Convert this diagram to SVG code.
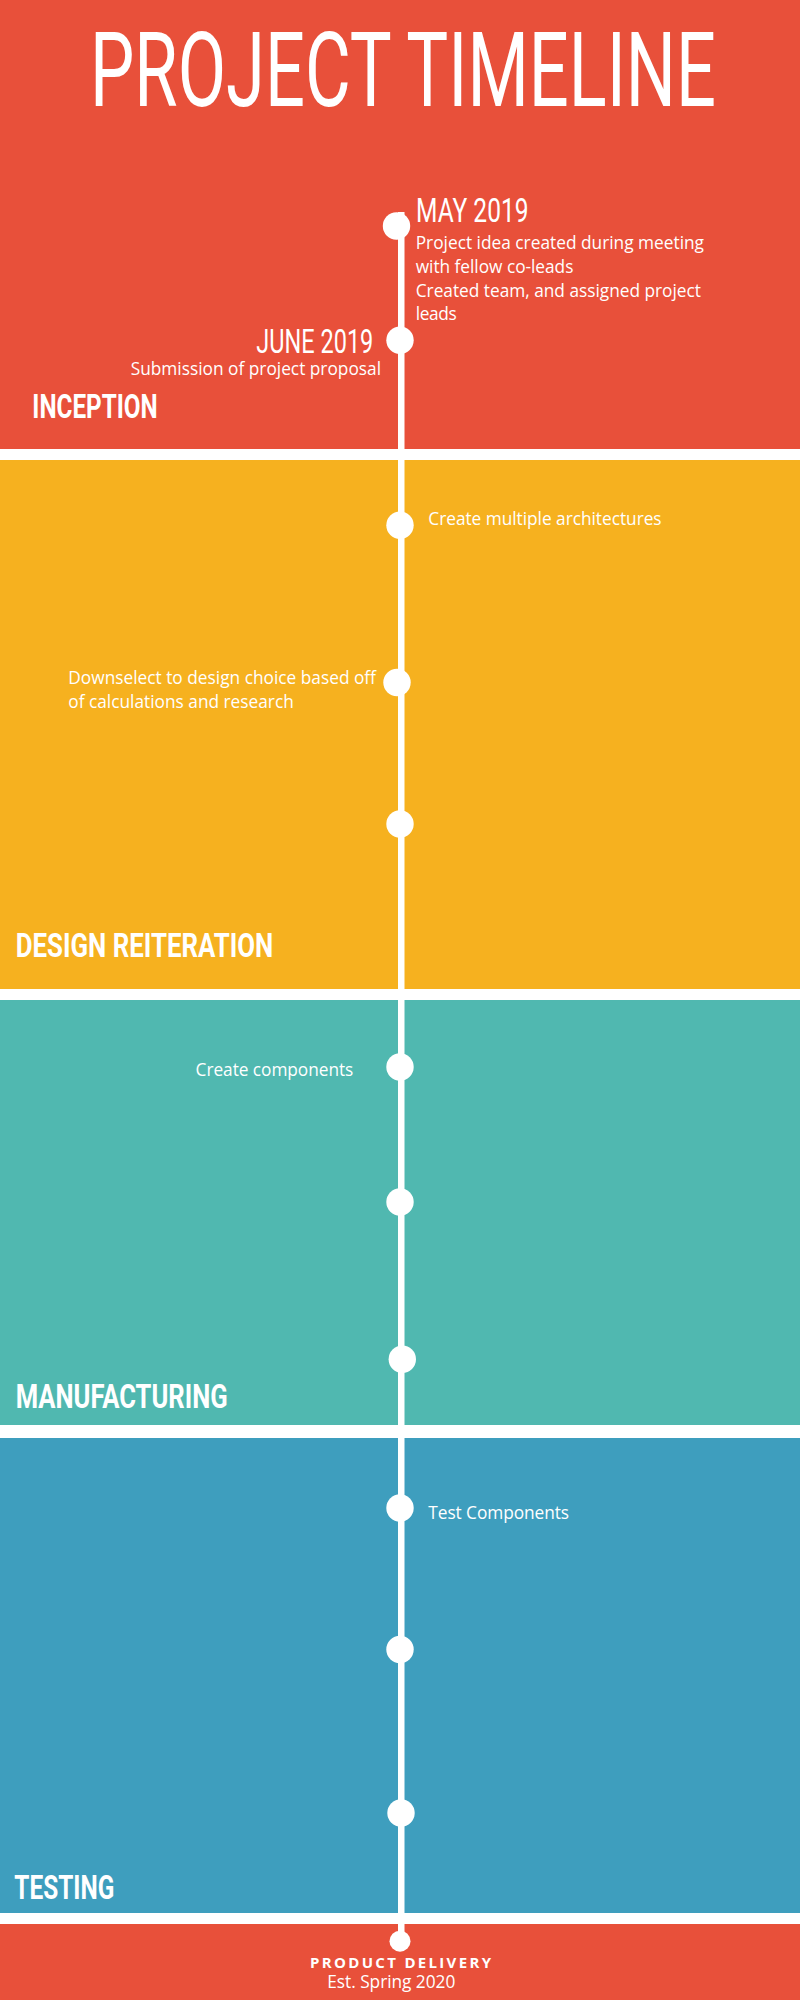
<svg xmlns="http://www.w3.org/2000/svg" width="800" height="2000" viewBox="0 0 800 2000">
  <style>
    .title { font-family: Roboto, "Liberation Sans", sans-serif; font-size: 103px; font-weight: 400; fill: #ffffff; }
    .date { font-family: Roboto, "Liberation Sans", sans-serif; font-size: 33px; font-weight: 400; fill: #ffffff; }
    .phase { font-family: Roboto, "Liberation Sans", sans-serif; font-size: 33px; font-weight: 700; fill: #ffffff; }
    .body { font-family: "Open Sans", "Liberation Sans", sans-serif; font-size: 17.3px; font-weight: 400; fill: #ffffff; }
    .final { font-family: "Open Sans", "Liberation Sans", sans-serif; font-size: 15px; font-weight: 700; fill: #ffffff; }
    .dot { fill: #ffffff; }
  </style>

  <!-- page background and phase bands -->
  <g id="bands">
    <rect x="0" y="0" width="800" height="2000" fill="#ffffff"/>
    <rect id="band-inception" x="0" y="0" width="800" height="449" fill="#E8503A"/>
    <rect id="band-design" x="0" y="460" width="800" height="529" fill="#F6B11F"/>
    <rect id="band-manufacturing" x="0" y="1000" width="800" height="425" fill="#50B8B0"/>
    <rect id="band-testing" x="0" y="1438" width="800" height="475" fill="#3E9EBE"/>
    <rect id="band-delivery" x="0" y="1924" width="800" height="76" fill="#E8503A"/>
  </g>

  <!-- condensed headline: horizontally squeezed to 626px -->
  <text id="title" class="title" transform="translate(90,106) scale(0.65,1)" x="0" y="0" textLength="963" lengthAdjust="spacingAndGlyphs">PROJECT TIMELINE</text>

  <!-- timeline spine -->
  <g id="connectors">
    <rect x="398" y="212" width="6.5" height="1730" fill="#ffffff"/>
  </g>

  <!-- phase labels -->
  <g id="phase-labels">
    <text id="label-inception" class="phase" x="32.3" y="418.3" textLength="125.4" lengthAdjust="spacingAndGlyphs">INCEPTION</text>
    <text id="label-design" class="phase" x="15.7" y="956.7" textLength="257.6" lengthAdjust="spacingAndGlyphs">DESIGN REITERATION</text>
    <text id="label-manufacturing" class="phase" x="15.7" y="1407.7" textLength="212" lengthAdjust="spacingAndGlyphs">MANUFACTURING</text>
    <text id="label-testing" class="phase" x="14.3" y="1898.5" textLength="100" lengthAdjust="spacingAndGlyphs">TESTING</text>
  </g>

  <!-- milestones -->
  <g id="m-may-2019">
    <circle class="dot" cx="396.5" cy="226" r="13.7"/>
    <text class="date" x="416" y="221.7" textLength="112.5" lengthAdjust="spacingAndGlyphs">MAY 2019</text>
    <text class="body" x="415.7" y="249" textLength="288.3">Project idea created during meeting</text>
    <text class="body" x="415.7" y="272.5" textLength="157.7">with fellow co-leads</text>
    <text class="body" x="415.7" y="296.5" textLength="285.3">Created team, and assigned project</text>
    <text class="body" x="415.7" y="320" textLength="41">leads</text>
  </g>

  <g id="m-june-2019">
    <circle class="dot" cx="400" cy="340.3" r="13.7"/>
    <text class="date" x="373.3" y="353.3" text-anchor="end" textLength="117" lengthAdjust="spacingAndGlyphs">JUNE 2019</text>
    <text class="body" x="381" y="375" text-anchor="end" textLength="250.3">Submission of project proposal</text>
  </g>

  <g id="m-architectures">
    <circle class="dot" cx="400" cy="525.3" r="13.7"/>
    <text class="body" x="428.3" y="525" textLength="233.3">Create multiple architectures</text>
  </g>

  <g id="m-downselect">
    <circle class="dot" cx="397" cy="682.5" r="13.7"/>
    <text class="body" x="68.3" y="684" textLength="307.7">Downselect to design choice based off</text>
    <text class="body" x="68.3" y="707.5" textLength="225.5">of calculations and research</text>
  </g>

  <g id="m-design-3">
    <circle class="dot" cx="400" cy="824" r="13.7"/>
  </g>

  <g id="m-components">
    <circle class="dot" cx="400" cy="1067" r="13.7"/>
    <text class="body" x="353.3" y="1075.5" text-anchor="end" textLength="157.7">Create components</text>
  </g>

  <g id="m-manufacturing-2">
    <circle class="dot" cx="400" cy="1202" r="13.7"/>
  </g>

  <g id="m-manufacturing-3">
    <circle class="dot" cx="402.3" cy="1359.3" r="13.7"/>
  </g>

  <g id="m-test">
    <circle class="dot" cx="400" cy="1508" r="13.7"/>
    <text class="body" x="428.3" y="1519.3" textLength="140.7">Test Components</text>
  </g>

  <g id="m-testing-2">
    <circle class="dot" cx="400" cy="1649.5" r="13.7"/>
  </g>

  <g id="m-testing-3">
    <circle class="dot" cx="401" cy="1813" r="13.7"/>
  </g>

  <g id="m-delivery">
    <circle class="dot" cx="400" cy="1941.2" r="10.5"/>
    <text class="final" x="310" y="1967.7" textLength="181">PRODUCT DELIVERY</text>
    <text class="body" x="327.3" y="1988.3" textLength="128">Est. Spring 2020</text>
  </g>
</svg>
